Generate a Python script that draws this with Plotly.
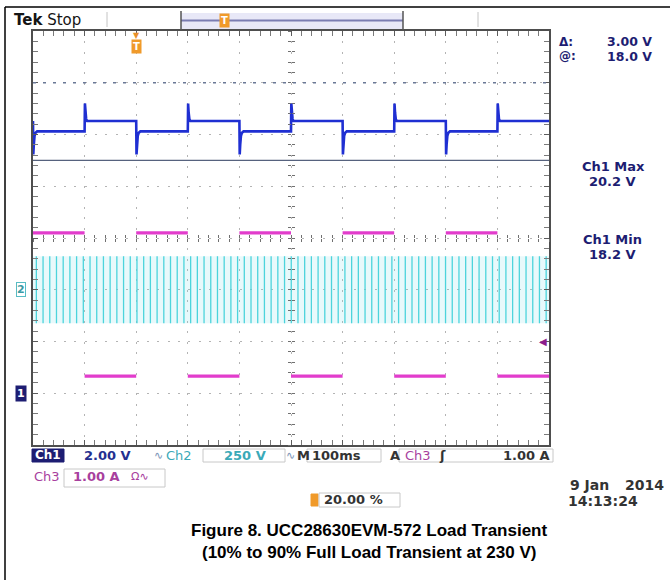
import numpy as np
import plotly.graph_objects as go

# ---------------- values ----------------
time_range_ms = [-200, 800]      # 100 ms/div, trigger at 20 % of record
ch1_range_v = [7, 23]            # Ch1 2.00 V/div
ch2_range_v = [-750, 1250]       # Ch2 250 V/div
ch3_range_a = [-1, 7]            # Ch3 1.00 A/div

# Ch3 load current: step edges (ms) and the level held after each edge (A)
ch3_edges_ms = [-200, -100, 0, 100, 200, 300, 400, 500, 600, 700, 800]
ch3_levels_a = [3.10, 0.33, 3.10, 0.33, 3.10, 0.33, 3.10, 0.33, 3.10, 0.33]

# Ch1 output voltage: settled level in each load segment (V)
ch1_levels_v = [19.12, 19.52, 19.12, 19.52, 19.12, 19.52, 19.12, 19.52, 19.12, 19.52]
# transient after a load step (10 % -> 90 %): offset (ms), voltage (V)
ch1_dip_dt_ms = [0.0, 0.6, 1.6, 3.0, 5.0, 8.0]
ch1_dip_v = [19.52, 18.23, 18.62, 18.95, 19.07, 19.12]
# transient after a load release (90 % -> 10 %)
ch1_peak_dt_ms = [0.0, 0.6, 1.6, 3.0, 5.0]
ch1_peak_v = [19.12, 20.20, 19.85, 19.60, 19.52]

# Ch2 AC line (aliased at 100 ms/div): envelope (V) and stroke spacing (ms)
ch2_envelope_v = [-162, 162]
ch2_stroke_ms = 13.0

# cursors, measurements, channel markers
cursor_v = [21.0, 18.0]
ch1_max_v = 20.2
ch1_min_v = 18.2
ch1_marker_v = 9.0
ch2_marker_v = 0.0
ch3_trig_a = 1.00
trig_time_ms = 0

# ---------------- build traces ----------------
t1, v1 = [], []
for i, level in enumerate(ch1_levels_v):
    t0, te = ch3_edges_ms[i], ch3_edges_ms[i + 1]
    if ch3_levels_a[i] > ch3_trig_a:
        dts, vs = ch1_dip_dt_ms, ch1_dip_v
    else:
        dts, vs = ch1_peak_dt_ms, ch1_peak_v
    t1 += [t0 + d for d in dts] + [te]
    v1 += list(vs) + [level]

t3, v3 = [], []
for i, level in enumerate(ch3_levels_a):
    t3 += [ch3_edges_ms[i], ch3_edges_ms[i + 1], None]
    v3 += [level, level, None]

strokes = np.arange(time_range_ms[0] + ch2_stroke_ms / 2, time_range_ms[1], ch2_stroke_ms)
t2, v2 = [], []
for s in strokes:
    t2 += [s, s, None]
    v2 += [ch2_envelope_v[0], ch2_envelope_v[1], None]

BLUE = '#1f2fd2'
CYAN = '#4cd4dc'
PINK = '#e23ccc'
NAVY = '#1d1d72'

fig = go.Figure()
fig.add_trace(go.Scatter(x=[time_range_ms[0], time_range_ms[1], time_range_ms[1], time_range_ms[0]],
                         y=[ch2_envelope_v[0], ch2_envelope_v[0], ch2_envelope_v[1], ch2_envelope_v[1]],
                         fill='toself', fillcolor='rgba(110,220,228,0.16)', line=dict(width=0),
                         mode='lines', xaxis='x', yaxis='y3', hoverinfo='skip'))
fig.add_trace(go.Scatter(x=t2, y=v2, mode='lines', line=dict(color=CYAN, width=1.3),
                         xaxis='x', yaxis='y3', hoverinfo='skip'))
fig.add_trace(go.Scatter(x=t3, y=v3, mode='lines', line=dict(color=PINK, width=3.2),
                         xaxis='x', yaxis='y2', hoverinfo='skip'))
fig.add_trace(go.Scatter(x=t1, y=v1, mode='lines', line=dict(color=BLUE, width=2.6),
                         xaxis='x', yaxis='y', hoverinfo='skip'))
# carriers for the centre tick axes
for xa, ya in [('x2', 'y'), ('x3', 'y'), ('x', 'y4'), ('x', 'y5')]:
    fig.add_trace(go.Scatter(x=[time_range_ms[0]], y=[ch1_range_v[0]], mode='markers',
                             marker=dict(opacity=0), xaxis=xa, yaxis=ya, hoverinfo='skip'))

# ---------------- pixel helpers for page furniture ----------------
W, H = 670, 580
L, R, T, B = 33, 549, 31, 445


def fx(x):
    return (x - L) / (R - L)


def fy(y):
    return (B - y) / (B - T)


FONT = 'DejaVu Sans'
ann = []
shapes = []


def text(x, y, s, size=13, color='#222', xanchor='left', bold=True, family=FONT, xref='paper', yref='paper',
         **kw):
    kw.setdefault('borderpad', 0)
    ann.append(dict(x=fx(x) if xref == 'paper' else x, y=fy(y) if yref == 'paper' else y,
                    xref=xref, yref=yref, text=('<b>%s</b>' % s) if bold else s,
                    showarrow=False, xanchor=xanchor, yanchor='middle',
                    font=dict(family=family, size=size, color=color), **kw))


def rect(x0, y0, x1, y1, line='#c8c8c8', fill='rgba(0,0,0,0)', width=1):
    shapes.append(dict(type='rect', xref='paper', yref='paper', x0=fx(x0), x1=fx(x1), y0=fy(y0), y1=fy(y1),
                       line=dict(color=line, width=width), fillcolor=fill, layer='above'))


def line(x0, y0, x1, y1, color='#000', width=1, dash='solid'):
    shapes.append(dict(type='line', xref='paper', yref='paper', x0=fx(x0), x1=fx(x1), y0=fy(y0), y1=fy(y1),
                       line=dict(color=color, width=width, dash=dash), layer='above'))


# outer frame
line(5, 7, 670, 7, '#000', 1.5)
line(5, 7, 5, 580, '#000', 1.5)

# header
text(13, 20, '<b>Tek</b> Stop', size=15, color='#151515', bold=False)
line(107, 12, 107, 27, '#c4c4c4', 1)
line(478, 12, 478, 27, '#c4c4c4', 1)
rect(181, 13, 403, 29, line='rgba(0,0,0,0)', fill='rgba(214,214,240,0.55)')
line(181, 20.5, 403, 20.5, '#7a7cb2', 2)
line(181, 11, 181, 30, '#555', 1.5)
line(403, 11, 403, 30, '#555', 1.5)
text(224, 21, 'T', size=10, color='#ffffff', xanchor='center', bgcolor='#f09a2a', borderpad=1)

# trigger position marker inside graticule
text(trig_time_ms, 35, '▼', size=8, color='#e8902a', xanchor='center', bold=False, xref='x')
text(trig_time_ms, 46, 'T', size=10, color='#ffffff', xanchor='center', xref='x',
     bgcolor='#f09a2a', borderpad=1)

# cursors (Ch1 volts)
shapes.append(dict(type='line', xref='paper', yref='y', x0=0, x1=1, y0=cursor_v[0], y1=cursor_v[0],
                   line=dict(color='#6a7896', width=1.6, dash='3px,7px'), layer='above'))
shapes.append(dict(type='line', xref='paper', yref='y', x0=0, x1=1, y0=cursor_v[1], y1=cursor_v[1],
                   line=dict(color='#56627e', width=1.4), layer='above'))

# channel markers
ann.append(dict(x=fx(21), y=ch1_marker_v, xref='paper', yref='y', text='<b>1</b>', showarrow=False,
                xanchor='center', yanchor='middle', bgcolor=NAVY, borderpad=1,
                font=dict(family=FONT, size=11, color='#ffffff')))
ann.append(dict(x=fx(21), y=ch2_marker_v, xref='paper', yref='y3', text='<b>2</b>', showarrow=False,
                xanchor='center', yanchor='middle', bgcolor='#ffffff', bordercolor='#58bcc4', borderwidth=1,
                borderpad=0, font=dict(family=FONT, size=11, color='#3a9aa4')))
ann.append(dict(x=fx(543), y=ch3_trig_a, xref='paper', yref='y2', text='◀', showarrow=False,
                xanchor='center', yanchor='middle', font=dict(family=FONT, size=10, color='#8c1c8c')))

# right readouts
text(558, 41.5, 'Δ:', size=12, color=NAVY)
text(653, 41.5, '%.2f V' % (cursor_v[0] - cursor_v[1]), size=12.5, color=NAVY, xanchor='right')
text(558, 56, '@:', size=12, color=NAVY)
text(653, 56, '%.1f V' % cursor_v[1], size=12.5, color=NAVY, xanchor='right')
text(613, 166, 'Ch1 Max', size=13, color=NAVY, xanchor='center')
text(612, 182, '%.1f V' % ch1_max_v, size=13, color=NAVY, xanchor='center')
text(612, 239, 'Ch1 Min', size=13, color=NAVY, xanchor='center')
text(612, 255, '%.1f V' % ch1_min_v, size=13, color=NAVY, xanchor='center')

# bottom readouts
rect(32, 449, 64, 462, line=NAVY, fill=NAVY)
text(48, 455.5, 'Ch1', size=12, color='#ffffff', xanchor='center')
text(83, 455.5, '2.00 V', size=13, color='#243090')
text(153, 455.5, '∿', size=11, color='#7d96b8', bold=False)
text(165, 455.5, 'Ch2', size=13, color='#3aa9b8', bold=False)
rect(203, 449, 285, 462)
text(223, 455.5, '250 V', size=13, color='#3aa9b8')
text(285, 455.5, '∿', size=11, color='#7d96b8', bold=False)
text(296, 455.5, 'M', size=13, color='#333333')
rect(307, 449, 381, 462)
text(311, 455.5, '100ms', size=13, color='#333333')
text(389, 455.5, 'A', size=13, color='#333333')
rect(399, 449, 553, 462)
text(404, 455.5, 'Ch3', size=13, color='#a8409e', bold=False)
text(438, 455.5, 'ʃ', size=13, color='#333333')
text(551, 455.5, '%.2f A' % ch3_trig_a, size=13, color='#333333', xanchor='right')

text(33, 477, 'Ch3', size=13, color='#a8409e', bold=False)
rect(64, 469, 165, 487)
text(72, 477, '1.00 A', size=13, color='#a8409e')
text(130, 477, 'Ω∿', size=11, color='#a8409e', bold=False)

rect(311, 494, 318, 506, line='#f09a2a', fill='#f09a2a')
rect(319, 493, 400, 507)
text(323, 500, '20.00 %', size=13, color='#333333')

text(569, 485, '9 Jan', size=14, color='#333333')
text(665, 485, '2014', size=14, color='#333333', xanchor='right')
text(567, 501, '14:13:24', size=14, color='#333333')

# caption
text(369, 530, 'Figure 8. UCC28630EVM-572 Load Transient', size=17, color='#000000',
     xanchor='center', family='Liberation Sans')
text(369, 552, '(10% to 90% Full Load Transient at 230 V)', size=17, color='#000000',
     xanchor='center', family='Liberation Sans')

# ---------------- axes ----------------
hidden = dict(showticklabels=False, zeroline=False, showgrid=False, fixedrange=True)
grid_common = dict(showticklabels=False, zeroline=False, fixedrange=True, showgrid=True,
                   gridcolor='#b4b4b4', gridwidth=1, griddash='2px,8.35px',
                   showline=True, linecolor='#4e4e4e', linewidth=2, mirror='allticks',
                   ticks='inside', ticklen=5, tickwidth=1, tickcolor='#5c5c5c')

xdiv = 100
ydiv = 2
fig.update_layout(
    width=W, height=H, autosize=False,
    margin=dict(l=L, r=W - R, t=T, b=H - B, pad=0),
    paper_bgcolor='white', plot_bgcolor='white', showlegend=False,
    xaxis=dict(range=time_range_ms, tick0=time_range_ms[0], dtick=xdiv,
               minor=dict(dtick=xdiv / 5, tick0=time_range_ms[0], ticks='inside', ticklen=3,
                          tickcolor='#7a7a7a', showgrid=False), **grid_common),
    yaxis=dict(range=ch1_range_v, tick0=ch1_range_v[0], dtick=ydiv,
               minor=dict(dtick=ydiv / 5, tick0=ch1_range_v[0], ticks='inside', ticklen=3,
                          tickcolor='#7a7a7a', showgrid=False), **grid_common),
    yaxis2=dict(range=ch3_range_a, overlaying='y', visible=False, **hidden),
    yaxis3=dict(range=ch2_range_v, overlaying='y', visible=False, **hidden),
    xaxis2=dict(range=time_range_ms, overlaying='x', anchor='free', position=0.5, side='bottom',
                tick0=time_range_ms[0], dtick=xdiv, ticks='inside', ticklen=3, tickcolor='#707070',
                minor=dict(dtick=xdiv / 5, tick0=time_range_ms[0], ticks='inside', ticklen=3,
                           tickcolor='#707070'), showline=False, **hidden),
    xaxis3=dict(range=time_range_ms, overlaying='x', anchor='free', position=0.5, side='bottom',
                tick0=time_range_ms[0], dtick=xdiv, ticks='outside', ticklen=3, tickcolor='#707070',
                minor=dict(dtick=xdiv / 5, tick0=time_range_ms[0], ticks='outside', ticklen=3,
                           tickcolor='#707070'), showline=False, **hidden),
    yaxis4=dict(range=ch1_range_v, overlaying='y', anchor='free', position=0.5, side='left',
                tick0=ch1_range_v[0], dtick=ydiv, ticks='inside', ticklen=3, tickcolor='#707070',
                minor=dict(dtick=ydiv / 5, tick0=ch1_range_v[0], ticks='inside', ticklen=3,
                           tickcolor='#707070'), showline=False, **hidden),
    yaxis5=dict(range=ch1_range_v, overlaying='y', anchor='free', position=0.5, side='left',
                tick0=ch1_range_v[0], dtick=ydiv, ticks='outside', ticklen=3, tickcolor='#707070',
                minor=dict(dtick=ydiv / 5, tick0=ch1_range_v[0], ticks='outside', ticklen=3,
                           tickcolor='#707070'), showline=False, **hidden),
    annotations=ann, shapes=shapes,
)

fig.write_html('out.html', config={'displayModeBar': False, 'staticPlot': True})
